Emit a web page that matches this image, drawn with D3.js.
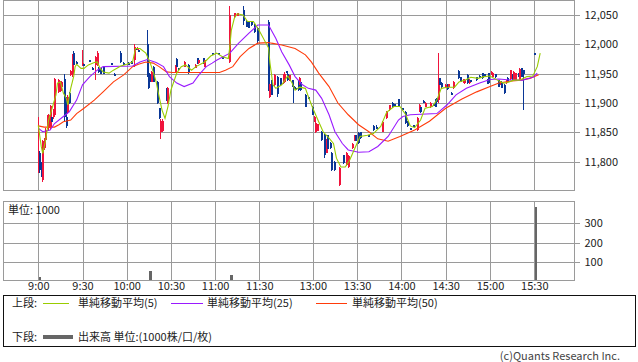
<!DOCTYPE html>
<html>
<head>
<meta charset="utf-8">
<script src="https://d3js.org/d3.v7.min.js"></script>
<style>
body { margin: 0; background: #fff; }
svg { display: block; font-family: "Noto Sans CJK JP", "Noto Sans", sans-serif; }
</style>
</head>
<body>
<script>
// ---- data ----
var timeTicks = ["9:00", "9:30", "10:00", "10:30", "11:00", "11:30", "13:00", "13:30", "14:00", "14:30", "15:00", "15:30"];
var priceTicks = [11800, 11850, 11900, 11950, 12000, 12050];
var volTicks = [100, 200, 300];

// [time, open, high, low, close]
var amCandles = [
  ["9:00", 11790, 11877, 11780, 11805], ["9:01", 11815, 11818, 11781, 11786], ["9:02", 11798, 11800, 11774, 11776],
  ["9:03", 11769, 11837, 11766, 11835], ["9:04", 11823, 11840, 11820, 11837], ["9:05", 11837, 11858, 11834, 11854],
  ["9:06", 11862, 11880, 11855, 11876], ["9:07", 11857, 11882, 11852, 11880], ["9:08", 11857, 11897, 11855, 11895],
  ["9:09", 11877, 11880, 11865, 11868], ["9:10", 11876, 11890, 11872, 11888], ["9:11", 11880, 11943, 11876, 11941],
  ["9:14", 11919, 11941, 11917, 11939], ["9:15", 11920, 11938, 11918, 11937], ["9:16", 11928, 11937, 11926, 11936],
  ["9:18", 11941, 11950, 11868, 11876], ["9:19", 11877, 11910, 11858, 11860], ["9:20", 11883, 11913, 11881, 11911],
  ["9:21", 11917, 11918, 11898, 11900], ["9:22", 11948, 11957, 11946, 11955], ["9:23", 11948, 11983, 11945, 11980],
  ["9:24", 11985, 11988, 11956, 11965], ["9:26", 11970, 11971, 11968, 11968], ["9:30", 11966, 11990, 11963, 11969],
  ["9:31", 11966, 11967, 11964, 11965], ["9:35", 11973, 11974, 11972, 11973], ["9:37", 11960, 11961, 11959, 11960],
  ["9:39", 11965, 11980, 11939, 11979], ["9:40", 11965, 11988, 11963, 11986], ["9:41", 11960, 11961, 11952, 11953],
  ["9:42", 11959, 11960, 11949, 11950], ["9:44", 11962, 11963, 11949, 11950], ["9:50", 11968, 11969, 11967, 11968],
  ["9:52", 11950, 11951, 11949, 11950], ["9:56", 11986, 11988, 11968, 11970], ["9:58", 11969, 11970, 11968, 11969],
  ["10:01", 11969, 11970, 11968, 11969], ["10:03", 11970, 11971, 11969, 11970], ["10:05", 11973, 12000, 11962, 11996],
  ["10:06", 11994, 11995, 11989, 11990], ["10:07", 11992, 11995, 11991, 11994], ["10:08", 11990, 11991, 11989, 11990],
  ["10:14", 12000, 12025, 11945, 11948], ["10:15", 11951, 11953, 11924, 11926], ["10:16", 11948, 11949, 11935, 11936],
  ["10:17", 11936, 11954, 11935, 11953], ["10:18", 11962, 11963, 11935, 11936], ["10:21", 11936, 11938, 11898, 11900],
  ["10:22", 11891, 11892, 11872, 11874], ["10:23", 11850, 11872, 11839, 11870], ["10:24", 11852, 11872, 11850, 11869],
  ["10:27", 11925, 11926, 11904, 11905], ["10:28", 11900, 11927, 11898, 11925], ["10:33", 11953, 11964, 11952, 11963],
  ["10:34", 11975, 11976, 11961, 11962], ["10:35", 11959, 11960, 11958, 11959], ["10:39", 11962, 11971, 11961, 11970],
  ["10:42", 11965, 11966, 11950, 11951], ["10:47", 11960, 11966, 11959, 11965], ["10:48", 11976, 11977, 11967, 11968],
  ["10:49", 11968, 11974, 11967, 11973], ["10:52", 11976, 11977, 11967, 11968], ["10:53", 11962, 11974, 11961, 11973],
  ["10:58", 11985, 11986, 11984, 11985], ["11:02", 11985, 11986, 11984, 11985], ["11:05", 11979, 11980, 11978, 11979],
  ["11:10", 11970, 12065, 11968, 12050], ["11:13", 12046, 12054, 12045, 12053], ["11:15", 12049, 12054, 12048, 12053],
  ["11:19", 12058, 12065, 12033, 12040], ["11:21", 12040, 12041, 12029, 12030], ["11:23", 12038, 12039, 12027, 12028],
  ["11:25", 12038, 12039, 12032, 12033], ["11:27", 12033, 12034, 12020, 12021], ["11:29", 12027, 12029, 12000, 12005]
];

var pmCandles = [
  ["12:30", 12038, 12042, 11920, 11925], ["12:31", 11911, 11942, 11908, 11933], ["12:32", 11939, 11940, 11913, 11914],
  ["12:34", 11931, 11949, 11929, 11948], ["12:36", 11945, 11946, 11911, 11915], ["12:38", 11942, 11943, 11930, 11931],
  ["12:40", 11934, 11950, 11933, 11949], ["12:41", 11936, 11953, 11935, 11950], ["12:42", 11954, 11955, 11953, 11954],
  ["12:43", 11950, 11951, 11938, 11939], ["12:44", 11939, 11948, 11938, 11947], ["12:46", 11939, 11940, 11927, 11928],
  ["12:47", 11929, 11931, 11900, 11924], ["12:48", 11926, 11927, 11925, 11926], ["12:50", 11939, 11940, 11921, 11922],
  ["12:51", 11931, 11944, 11930, 11943], ["12:52", 11936, 11937, 11921, 11922], ["12:55", 11914, 11915, 11893, 11894],
  ["12:57", 11910, 11911, 11909, 11910], ["13:00", 11894, 11895, 11879, 11880], ["13:01", 11868, 11878, 11867, 11877],
  ["13:02", 11851, 11868, 11849, 11866], ["13:03", 11853, 11865, 11852, 11864], ["13:06", 11851, 11852, 11836, 11837],
  ["13:08", 11845, 11848, 11806, 11812], ["13:09", 11815, 11839, 11814, 11838], ["13:10", 11845, 11846, 11821, 11822],
  ["13:12", 11832, 11833, 11822, 11823], ["13:13", 11815, 11816, 11785, 11786], ["13:15", 11800, 11801, 11785, 11786],
  ["13:18", 11760, 11791, 11759, 11789], ["13:21", 11811, 11812, 11796, 11797], ["13:23", 11794, 11816, 11793, 11815],
  ["13:24", 11791, 11811, 11790, 11810], ["13:27", 11823, 11832, 11822, 11831], ["13:28", 11837, 11846, 11836, 11845],
  ["13:29", 11845, 11846, 11835, 11836], ["13:31", 11849, 11850, 11831, 11832], ["13:32", 11850, 11851, 11839, 11840],
  ["13:38", 11845, 11846, 11844, 11845], ["13:41", 11861, 11862, 11853, 11854], ["13:43", 11859, 11862, 11855, 11856],
  ["13:47", 11851, 11869, 11850, 11868], ["13:50", 11874, 11886, 11873, 11885], ["13:52", 11888, 11897, 11887, 11896],
  ["13:54", 11900, 11901, 11892, 11893], ["13:55", 11898, 11899, 11897, 11898], ["13:58", 11906, 11907, 11893, 11894],
  ["14:01", 11891, 11892, 11890, 11891], ["14:03", 11885, 11886, 11865, 11866], ["14:04", 11868, 11869, 11859, 11860],
  ["14:06", 11857, 11858, 11856, 11857], ["14:08", 11862, 11863, 11861, 11862], ["14:11", 11854, 11876, 11852, 11874],
  ["14:12", 11885, 11898, 11884, 11897], ["14:13", 11894, 11895, 11883, 11884], ["14:15", 11904, 11905, 11903, 11904],
  ["14:16", 11894, 11901, 11893, 11900], ["14:20", 11894, 11901, 11891, 11900], ["14:22", 11898, 11899, 11897, 11898],
  ["14:23", 11905, 11906, 11893, 11894], ["14:24", 11908, 11909, 11900, 11901], ["14:25", 11905, 11986, 11900, 11933],
  ["14:26", 11942, 11943, 11930, 11931], ["14:27", 11934, 11935, 11926, 11927], ["14:30", 11926, 11932, 11925, 11931],
  ["14:31", 11932, 11933, 11923, 11924], ["14:32", 11928, 11933, 11927, 11932], ["14:34", 11917, 11918, 11916, 11917],
  ["14:35", 11925, 11937, 11924, 11936], ["14:39", 11955, 11956, 11941, 11942], ["14:40", 11944, 11945, 11935, 11936],
  ["14:42", 11935, 11941, 11934, 11940], ["14:43", 11934, 11941, 11933, 11940], ["14:45", 11948, 11949, 11933, 11934],
  ["14:46", 11934, 11941, 11933, 11940], ["14:47", 11939, 11940, 11938, 11939], ["14:51", 11944, 11945, 11938, 11939],
  ["14:53", 11946, 11947, 11945, 11946], ["14:55", 11951, 11952, 11941, 11942], ["14:56", 11949, 11950, 11944, 11945],
  ["14:58", 11940, 11941, 11932, 11933], ["14:59", 11951, 11952, 11933, 11934], ["15:01", 11948, 11954, 11947, 11953],
  ["15:02", 11945, 11952, 11944, 11951], ["15:04", 11949, 11950, 11943, 11944], ["15:06", 11939, 11940, 11927, 11928],
  ["15:07", 11931, 11937, 11930, 11936], ["15:08", 11936, 11937, 11925, 11926], ["15:10", 11931, 11932, 11916, 11917],
  ["15:11", 11934, 11940, 11933, 11939], ["15:12", 11943, 11944, 11935, 11936], ["15:14", 11941, 11957, 11940, 11956],
  ["15:15", 11948, 11949, 11938, 11939], ["15:16", 11939, 11954, 11938, 11953], ["15:17", 11940, 11952, 11939, 11951],
  ["15:19", 11951, 11952, 11945, 11946], ["15:20", 11941, 11959, 11940, 11958], ["15:21", 11959, 11960, 11944, 11945],
  ["15:23", 11956, 11957, 11888, 11950], ["15:30", 11985, 11985, 11985, 11985]
];

var ma5 = [
  ["9:00",11862],["9:02",11826],["9:03",11814],["9:05",11837],["9:07",11871],["9:09",11888],["9:12",11914],["9:13",11934],
  ["9:15",11936],["9:17",11917],["9:19",11908],["9:20",11897],["9:22",11925],["9:24",11945],["9:25",11962],["9:26",11966],
  ["9:29",11959],["9:31",11959],["9:34",11965],["9:38",11969],["9:40",11970],["9:42",11959],["9:44",11953],["9:48",11951],
  ["9:51",11956],["9:56",11963],["10:00",11966],["10:04",11970],["10:06",11993],["10:09",11993],["10:13",11985],["10:16",11968],
  ["10:18",11953],["10:20",11936],["10:22",11911],["10:24",11888],["10:26",11874],["10:28",11894],["10:30",11922],["10:34",11951],
  ["10:37",11962],["10:40",11965],["10:44",11956],["10:47",11962],["10:53",11970],["10:57",11980],["11:01",11985],["11:05",11979],
  ["11:09",11976],["11:10",11996],["11:11",12024],["11:13",12044],["11:15",12052],["11:19",12050],["11:22",12039],["11:26",12039],
  ["11:29",12027],["11:30",12023],
  ["12:30",11994],["12:31",11968],["12:33",11931],["12:35",11925],["12:39",11931],["12:43",11946],["12:46",11934],["12:48",11922],
  ["12:51",11927],["12:55",11925],["12:57",11911],["13:00",11891],["13:04",11868],["13:07",11851],["13:11",11840],["13:14",11831],
  ["13:16",11806],["13:19",11791],["13:22",11791],["13:25",11803],["13:29",11826],["13:32",11843],["13:37",11845],["13:41",11848],
  ["13:46",11860],["13:50",11884],["13:55",11894],["13:59",11894],["14:03",11880],["14:06",11861],["14:09",11858],["14:13",11871],
  ["14:16",11891],["14:21",11894],["14:24",11905],["14:27",11925],["14:31",11927],["14:36",11927],["14:39",11936],["14:43",11939],
  ["14:47",11944],["14:52",11942],["14:56",11945],["15:00",11946],["15:05",11939],["15:09",11934],["15:12",11935],["15:16",11939],
  ["15:20",11939],["15:25",11945],["15:29",11946],["15:32",11962],["15:34",11985]
];

var ma25 = [
  ["9:00",11857],["9:03",11851],["9:08",11854],["9:11",11865],["9:17",11877],["9:21",11885],["9:26",11905],["9:30",11931],
  ["9:35",11945],["9:40",11956],["9:44",11962],["10:04",11963],["10:09",11970],["10:14",11974],["10:20",11969],["10:25",11962],
  ["10:29",11945],["10:34",11934],["10:39",11928],["10:45",11934],["10:49",11948],["10:54",11962],["10:58",11968],["11:01",11973],
  ["11:10",11985],["11:16",12002],["11:23",12019],["11:29",12033],
  ["12:30",12033],["12:35",12010],["12:39",11987],["12:44",11965],["12:48",11945],["12:53",11931],["12:57",11925],["13:02",11922],
  ["13:06",11908],["13:11",11880],["13:15",11851],["13:20",11831],["13:24",11820],["13:31",11816],["13:38",11817],["13:44",11826],
  ["13:51",11843],["13:58",11871],["14:01",11877],["14:06",11880],["14:24",11882],["14:31",11897],["14:37",11914],["14:44",11925],
  ["14:53",11934],["15:00",11940],["15:06",11941],["15:15",11939],["15:22",11939],["15:29",11944],["15:32",11951]
];

var ma50 = [
  ["9:00",11861],["9:04",11859],["9:11",11859],["9:14",11863],["9:17",11868],["9:22",11871],["9:26",11882],["9:31",11891],
  ["9:38",11905],["9:44",11919],["9:51",11936],["9:58",11948],["10:04",11962],["10:08",11966],["10:13",11970],["10:18",11968],
  ["10:22",11962],["10:27",11953],["10:31",11952],["11:03",11952],["11:07",11956],["11:12",11962],["11:17",11979],["11:23",11993],
  ["11:29",12002],
  ["12:30",12003],["12:32",12002],["12:39",11999],["12:48",11993],["12:55",11982],["12:59",11970],["13:04",11951],["13:11",11928],
  ["13:17",11900],["13:24",11880],["13:31",11863],["13:38",11851],["13:44",11839],["13:51",11835],["13:59",11843],["14:09",11854],
  ["14:19",11869],["14:30",11891],["14:41",11907],["14:51",11919],["15:00",11928],["15:06",11934],["15:13",11937],["15:21",11939],
  ["15:27",11942],["15:33",11948]
];

// volume, unit 1000
var volume = [["9:00", 22], ["9:12", 8], ["10:07", 8], ["10:15", 52], ["11:10", 31], ["12:31", 8], ["14:26", 6], ["15:30", 385]];

// ---- layout ----
var w = 638;
var h = 362;
var left = 3.5, right = 574.5;
var priceTop = 0.5, priceBottom = 190.5;
var volTop = 201.5, volBottom = 280.5;

var upColor = "#f0143c";
var downColor = "#0a3796";
var gridColor = "#9a9a9a";

function toMin(t) {
  var p = t.split(":");
  return +p[0] * 60 + +p[1];
}

// morning and afternoon sessions share one axis, the lunch break is squeezed
var xScale = d3.scaleLinear()
  .domain([540, 690, 750, 930])
  .range([38.3, 259.3, 268.5, 534.3]);

var yScale = d3.scaleLinear()
  .domain([11800, 12050])
  .range([161.7, 15]);

var vScale = d3.scaleLinear()
  .domain([0, 300])
  .range([281.3, 223.3]);

var svg = d3.select("body")
  .append("svg")
  .attr("width", w)
  .attr("height", h);

svg.append("rect").attr("width", w).attr("height", h).attr("fill", "#fff");

var tickMins = timeTicks.map(toMin);

//Grid, both panels
var grid = svg.append("g").attr("shape-rendering", "crispEdges");

[[priceTop, priceBottom], [volTop, volBottom]].forEach(function(p) {
  grid.selectAll(null)
    .data(tickMins)
    .enter()
    .append("line")
    .attr("x1", function(d) { return Math.round(xScale(d)) + 0.5; })
    .attr("x2", function(d) { return Math.round(xScale(d)) + 0.5; })
    .attr("y1", p[0])
    .attr("y2", p[1])
    .attr("stroke", gridColor);
});

grid.selectAll(null)
  .data(priceTicks)
  .enter()
  .append("line")
  .attr("x1", left)
  .attr("x2", right)
  .attr("y1", function(d) { return Math.round(yScale(d)) + 0.5; })
  .attr("y2", function(d) { return Math.round(yScale(d)) + 0.5; })
  .attr("stroke", gridColor);

grid.selectAll(null)
  .data(volTicks)
  .enter()
  .append("line")
  .attr("x1", left)
  .attr("x2", right)
  .attr("y1", function(d) { return Math.round(vScale(d)) + 0.5; })
  .attr("y2", function(d) { return Math.round(vScale(d)) + 0.5; })
  .attr("stroke", gridColor);

//Candles
var candles = amCandles.concat(pmCandles);
var cg = svg.append("g").attr("shape-rendering", "crispEdges");

cg.selectAll("line")
  .data(candles)
  .enter()
  .append("line")
  .attr("x1", function(d) { return Math.floor(xScale(toMin(d[0]))) + 0.5; })
  .attr("x2", function(d) { return Math.floor(xScale(toMin(d[0]))) + 0.5; })
  .attr("y1", function(d) { return yScale(d[2]); })
  .attr("y2", function(d) { return yScale(d[3]); })
  .attr("stroke", function(d) { return d[4] > d[1] ? upColor : downColor; });

cg.selectAll("rect")
  .data(candles)
  .enter()
  .append("rect")
  .attr("x", function(d) { return Math.floor(xScale(toMin(d[0]))) - 0.5; })
  .attr("width", 2.2)
  .attr("y", function(d) { return yScale(Math.max(d[1], d[4])); })
  .attr("height", function(d) { return Math.max(2, yScale(Math.min(d[1], d[4])) - yScale(Math.max(d[1], d[4]))); })
  .attr("fill", function(d) { return d[4] > d[1] ? upColor : downColor; });

//Moving averages
var line = d3.line()
  .x(function(d) { return xScale(toMin(d[0])); })
  .y(function(d) { return yScale(d[1]); });

[[ma50, "#ff3b0a"], [ma25, "#9a1aff"], [ma5, "#99cc00"]].forEach(function(s) {
  svg.append("path")
    .datum(s[0])
    .attr("d", line)
    .attr("fill", "none")
    .attr("stroke", s[1])
    .attr("stroke-width", 1.1);
});

//Volume bars
svg.append("g")
  .attr("shape-rendering", "crispEdges")
  .selectAll("rect")
  .data(volume)
  .enter()
  .append("rect")
  .attr("x", function(d) { return xScale(toMin(d[0])) + 0.5; })
  .attr("width", 2.6)
  .attr("y", function(d) { return vScale(d[1]); })
  .attr("height", function(d) { return volBottom - vScale(d[1]); })
  .attr("fill", "#666");

//Frames
svg.append("rect")
  .attr("x", left).attr("y", priceTop)
  .attr("width", right - left).attr("height", priceBottom - priceTop)
  .attr("fill", "none").attr("stroke", gridColor).attr("shape-rendering", "crispEdges");
svg.append("rect")
  .attr("x", left).attr("y", volTop)
  .attr("width", right - left).attr("height", volBottom - volTop)
  .attr("fill", "none").attr("stroke", gridColor).attr("shape-rendering", "crispEdges");

//Axes
var yAxis = d3.axisRight(yScale)
  .tickValues(priceTicks)
  .tickSize(5)
  .tickPadding(5)
  .tickFormat(d3.format(","));

var vAxis = d3.axisRight(vScale)
  .tickValues(volTicks)
  .tickSize(5)
  .tickPadding(5);

var xAxis = d3.axisBottom(xScale)
  .tickValues(tickMins)
  .tickSize(0)
  .tickPadding(2)
  .tickFormat(function(d, i) { return timeTicks[i]; });

[[yAxis, "translate(" + right + ",0)"], [vAxis, "translate(" + right + ",0)"], [xAxis, "translate(0," + volBottom + ")"]]
  .forEach(function(a) {
    var g = svg.append("g")
      .attr("class", "axis")
      .attr("transform", a[1])
      .call(a[0]);
    g.select(".domain").remove();
    g.selectAll("line").attr("stroke", gridColor).attr("shape-rendering", "crispEdges");
    g.selectAll("text")
      .attr("fill", "#222")
      .style("font-family", "'Noto Sans CJK JP', sans-serif")
      .style("font-size", "11px");
  });

svg.append("text")
  .attr("x", 8).attr("y", 214)
  .attr("font-size", 11).attr("fill", "#222")
  .text("単位: 1000");

//Legend
var legend = svg.append("g").attr("font-size", 11).attr("fill", "#222");

legend.append("rect")
  .attr("x", 3.5).attr("y", 295.5)
  .attr("width", 632).attr("height", 51)
  .attr("fill", "none").attr("stroke", "#111").attr("shape-rendering", "crispEdges");

legend.append("text").attr("x", 12).attr("y", 307).text("上段:");
legend.append("text").attr("x", 12).attr("y", 341).text("下段:");

var keys = [
  { x1: 43, x2: 69, tx: 78, color: "#99cc00", label: "単純移動平均(5)" },
  { x1: 171, x2: 203, tx: 207, color: "#9a1aff", label: "単純移動平均(25)" },
  { x1: 316, x2: 347, tx: 352, color: "#ff3b0a", label: "単純移動平均(50)" }
];

keys.forEach(function(k) {
  legend.append("line")
    .attr("x1", k.x1).attr("x2", k.x2)
    .attr("y1", 303.5).attr("y2", 303.5)
    .attr("stroke", k.color).attr("shape-rendering", "crispEdges");
  legend.append("text").attr("x", k.tx).attr("y", 307).text(k.label);
});

legend.append("line")
  .attr("x1", 43).attr("x2", 73)
  .attr("y1", 337).attr("y2", 337)
  .attr("stroke", "#666").attr("stroke-width", 4);
legend.append("text").attr("x", 78).attr("y", 341).text("出来高 単位:(1000株/口/枚)");

svg.append("text")
  .attr("x", 620).attr("y", 360)
  .attr("text-anchor", "end")
  .attr("font-size", 11).attr("fill", "#444")
  .text("(c)Quants Research Inc.");
</script>
</body>
</html>
